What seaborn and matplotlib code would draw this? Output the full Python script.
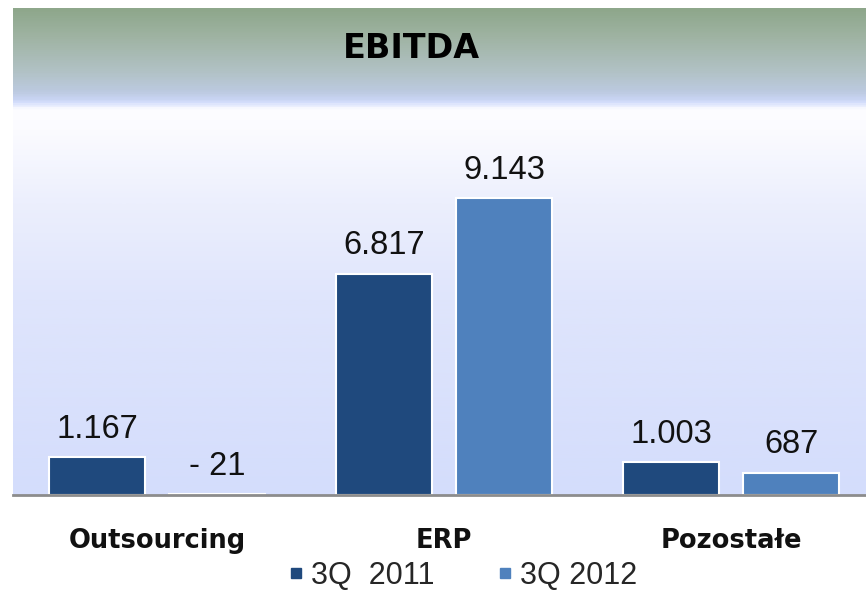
import numpy as np
import pandas as pd
import matplotlib
matplotlib.use("Agg")
import matplotlib.pyplot as plt
from matplotlib.colors import LinearSegmentedColormap
from matplotlib.lines import Line2D
import seaborn as sns

# Data (values in thousands, Polish number format)
segments = ["Outsourcing", "ERP", "Pozostałe"]
periods = ["3Q  2011", "3Q 2012"]
ebitda_2011 = [1167, 6817, 1003]
ebitda_2012 = [-21, 9143, 687]

colors = ["#1f497d", "#4f81bd"]

df = pd.DataFrame({
    "segment": segments * 2,
    "period": [periods[0]] * 3 + [periods[1]] * 3,
    "value": ebitda_2011 + ebitda_2012,
})
# the source draws the small negative bar as a sliver above the baseline
df["height"] = df["value"].abs()


def pl_fmt(v):
    s = f"{abs(v):,}".replace(",", ".")
    return f"- {s}" if v < 0 else s


sns.set_style("white")
plt.rcParams["font.family"] = ["Liberation Sans", "DejaVu Sans"]

fig = plt.figure(figsize=(8.66, 5.90), dpi=100)
W, H = 866, 590
ax = fig.add_axes([13 / W, 1 - 495 / H, 1 - 13 / W, (495 - 8) / H])

# background gradient (green header fading to lavender, white band, then lavender)
stops = [
    (0.000, "#8ea78b"),
    (0.060, "#a0b4a4"),
    (0.130, "#b2c2c6"),
    (0.170, "#bccae0"),
    (0.185, "#c8d4f2"),
    (0.192, "#d3ddfb"),
    (0.198, "#e4eafd"),
    (0.206, "#fdfdff"),
    (0.250, "#fbfbff"),
    (0.400, "#eceffd"),
    (0.600, "#dfe5fc"),
    (1.000, "#d4ddfc"),
]
cmap = LinearSegmentedColormap.from_list("bg", stops)
grad = np.linspace(0, 1, 600).reshape(-1, 1)
ax.imshow(grad, cmap=cmap, aspect="auto", extent=[0, 1, 0, 1],
          transform=ax.transAxes, zorder=0)

sns.barplot(
    data=df, x="segment", y="height", hue="period", order=segments,
    hue_order=periods, palette=colors, saturation=1, width=0.836, gap=0.2,
    edgecolor="white", linewidth=1.5, legend=False, ax=ax, zorder=3,
)

for cont, vals in zip(ax.containers, [ebitda_2011, ebitda_2012]):
    ax.bar_label(cont, labels=[pl_fmt(v) for v in vals], padding=9,
                 fontsize=23.5, color="#111111")

ax.set_xlim(-0.502, 2.47)
ax.set_ylim(0, 15000)
ax.set_xlabel("")
ax.set_ylabel("")
ax.set_yticks([])
ax.tick_params(axis="x", length=0, pad=24)
for lbl in ax.get_xticklabels():
    lbl.set_fontfamily("DejaVu Sans")
    lbl.set_fontweight("bold")
    lbl.set_fontsize(18.5)
    lbl.set_color("#111111")

for side in ["top", "left", "right"]:
    ax.spines[side].set_visible(False)
ax.spines["bottom"].set_color("#8c8c8c")
ax.spines["bottom"].set_linewidth(2)
ax.spines["bottom"].set_zorder(4)

fig.text(411 / W, 1 - 48 / H, "EBITDA", ha="center", va="center",
         fontsize=24, fontweight="bold", family="DejaVu Sans", color="black")

handles = [Line2D([], [], marker="s", linestyle="", markersize=7,
                  markerfacecolor=c, markeredgecolor=c) for c in colors]
fig.legend(handles, periods, loc="center", bbox_to_anchor=(462 / W, 1 - 576 / H),
           ncol=2, frameon=False, fontsize=22, handletextpad=0.2,
           columnspacing=2.0, handlelength=0.6, borderpad=0)

fig.savefig("out.png", dpi=100)
